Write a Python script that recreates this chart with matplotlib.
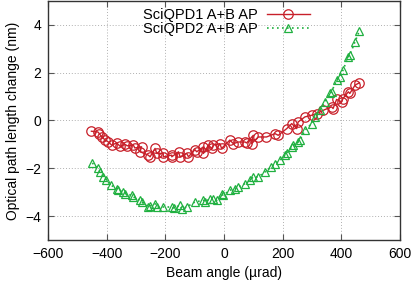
import matplotlib.pyplot as plt

plt.rcParams['font.family'] = ['Liberation Sans', 'DejaVu Sans']

# beam angle (urad) and optical path length change (nm)
x1 = [-452, -430, -425, -417, -405, -394, -383, -366, -354, -337, -330, -309, -304,
      -281, -286, -258, -252, -235, -229, -207, -207, -178, -178, -155, -150, -127,
      -121, -99, -93, -70, -70, -53, -42, -36, -14, -8, 20, 32, 49, 72, 77, 100, 94,
      117, 145, 174, 185, 214, 231, 248, 253, 276, 299, 316, 339, 367, 372, 384, 401,
      406, 424, 429, 447, 462]
y1 = [-0.45, -0.48, -0.55, -0.68, -0.82, -0.90, -1.03, -0.94, -1.08, -1.00, -1.06,
      -1.03, -1.15, -1.10, -1.31, -1.45, -1.52, -1.17, -1.38, -1.38, -1.52, -1.45,
      -1.52, -1.31, -1.52, -1.38, -1.52, -1.22, -1.31, -1.10, -1.38, -1.03, -1.17,
      -1.03, -0.97, -1.17, -0.82, -0.97, -0.90, -0.90, -0.94, -0.62, -0.97, -0.69,
      -0.69, -0.55, -0.62, -0.34, -0.13, -0.34, -0.06, 0.15, 0.22, 0.29, 0.43, 0.57,
      0.50, 0.88, 0.78, 0.92, 1.20, 1.13, 1.48, 1.58]

x2 = [-449, -431, -423, -411, -402, -385, -366, -360, -343, -337, -315, -309, -286,
      -281, -258, -252, -235, -229, -207, -178, -172, -150, -144, -127, -99, -70,
      -65, -48, -36, -25, -8, -3, 20, 37, 49, 72, 89, 100, 117, 140, 162, 174, 191,
      208, 214, 231, 236, 253, 259, 276, 299, 310, 327, 344, 361, 367, 384, 395, 406,
      424, 429, 447, 462]
y2 = [-1.78, -2.00, -2.15, -2.36, -2.50, -2.71, -2.85, -2.92, -3.00, -3.06, -3.13,
      -3.20, -3.34, -3.41, -3.62, -3.58, -3.48, -3.62, -3.62, -3.62, -3.66, -3.55,
      -3.69, -3.62, -3.41, -3.34, -3.41, -3.27, -3.27, -3.34, -3.06, -3.13, -2.92,
      -2.85, -2.78, -2.64, -2.50, -2.36, -2.36, -2.15, -1.94, -1.80, -1.66, -1.45,
      -1.38, -1.10, -1.03, -0.90, -0.83, -0.41, -0.13, 0.15, 0.43, 0.78, 1.13, 1.20,
      1.69, 1.83, 2.11, 2.67, 2.74, 3.30, 3.76]

red = '#c8202a'
green = '#20b040'

fig = plt.figure(figsize=(4.15, 2.84), dpi=100)
ax = fig.add_axes([0.1157, 0.155, 0.848, 0.8415])

ax.plot(x1, y1, color=red, lw=1, marker='o', ms=6.8, mfc='none', mew=0.9,
        label='SciQPD1 A+B AP')
ax.plot(x2, y2, color=green, lw=1.2, ls=(0, (1, 2)), marker='^', ms=6.2,
        mfc='none', mew=0.9, label='SciQPD2 A+B AP')

ax.set_xlim(-600, 600)
ax.set_ylim(-5, 5)
ax.set_xticks([-600, -400, -200, 0, 200, 400, 600])
ax.set_yticks([-4, -2, 0, 2, 4])
ax.grid(True, color='#b0b0b0', ls=(0, (1, 2)), lw=0.7)
ax.tick_params(direction='in', top=True, right=True, labelsize=10, length=4,
               color='#555555', pad=5)
for s in ax.spines.values():
    s.set_color('#333333')
    s.set_linewidth(1)

ax.set_xlabel('Beam angle (µrad)', fontsize=10, labelpad=4)
ax.set_ylabel('Optical path length change (nm)', fontsize=10, labelpad=4)

ax.legend(loc='upper right', bbox_to_anchor=(0.762, 0.995), frameon=False,
          markerfirst=False, fontsize=10.5, handlelength=3.0, handletextpad=0.6,
          labelspacing=0.0, borderaxespad=0)

plt.savefig('out.png', dpi=100)
